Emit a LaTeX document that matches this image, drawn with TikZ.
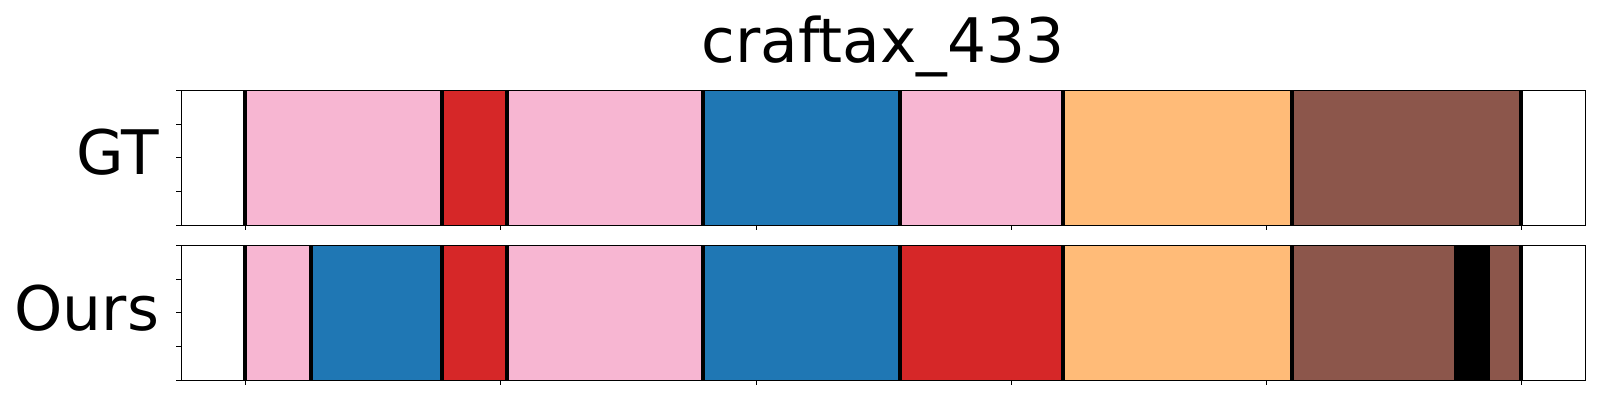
\documentclass[tikz,border=0pt]{standalone}
\usepackage{fontspec}
\setmainfont{DejaVu Sans}
\definecolor{cpink}{HTML}{F7B6D2}
\definecolor{cred}{HTML}{D62728}
\definecolor{cblue}{HTML}{1F77B4}
\definecolor{corange}{HTML}{FFBB78}
\definecolor{cbrown}{HTML}{8C564B}
\tikzset{
  lbl/.style={inner sep=0pt, font=\fontsize{30.7}{36}\selectfont},
  frame/.style={draw=black, line width=0.65pt},
  sep/.style={draw=black, line width=2pt},
  tick/.style={draw=black, line width=0.5pt},
}
\begin{document}
\begin{tikzpicture}[x=0.5pt,y=-0.5pt]
\useasboundingbox (0,0) rectangle (1600,400);
% ---- top row (GT): y 90.3 -- 225.3
\def\ta{90.3}\def\tb{225.3}
\fill[cpink]   (245,\ta) rectangle (441.5,\tb);
\fill[cred]    (441.5,\ta) rectangle (507,\tb);
\fill[cpink]   (507,\ta) rectangle (703,\tb);
\fill[cblue]   (703,\ta) rectangle (900,\tb);
\fill[cpink]   (900,\ta) rectangle (1063,\tb);
\fill[corange] (1063,\ta) rectangle (1291.7,\tb);
\fill[cbrown]  (1291.7,\ta) rectangle (1521,\tb);
\foreach \x in {245,441.5,507,703,900,1063,1291.7,1521}
  \draw[sep] (\x,\ta) -- (\x,\tb);
% ---- bottom row (Ours): y 245.3 -- 380.3
\def\ba{245.3}\def\bb{380.3}
\fill[cpink]   (245,\ba) rectangle (310.7,\bb);
\fill[cblue]   (310.7,\ba) rectangle (441.5,\bb);
\fill[cred]    (441.5,\ba) rectangle (507,\bb);
\fill[cpink]   (507,\ba) rectangle (703,\bb);
\fill[cblue]   (703,\ba) rectangle (900,\bb);
\fill[cred]    (900,\ba) rectangle (1063,\bb);
\fill[corange] (1063,\ba) rectangle (1291.7,\bb);
\fill[cbrown]  (1291.7,\ba) rectangle (1454,\bb);
\fill[black]   (1454,\ba) rectangle (1490,\bb);
\fill[cbrown]  (1490,\ba) rectangle (1521,\bb);
\foreach \x in {245,310.7,441.5,507,703,900,1063,1291.7,1521}
  \draw[sep] (\x,\ba) -- (\x,\bb);
% ---- frames
\draw[frame] (181.3,\ta) rectangle (1585.7,\tb);
\draw[frame] (181.3,\ba) rectangle (1585.7,\bb);
% ---- ticks
\foreach \i in {0,1,2,3,4} {
  \draw[tick] (176,{\ta+\i*33.75}) -- (181.3,{\ta+\i*33.75});
  \draw[tick] (176,{\ba+\i*33.75}) -- (181.3,{\ba+\i*33.75});
}
\foreach \x in {245.5,500.7,756,1011.3,1266.6,1521.7} {
  \draw[tick] (\x,\tb) -- (\x,230.3);
  \draw[tick] (\x,\bb) -- (\x,385.3);
}
% ---- labels
\node[lbl, anchor=base] (title) at (883,62.7) {craftax\_433};
\node[lbl, anchor=base east] (gt) at (159.5,175) {GT};
\node[lbl, anchor=base east] (ours) at (159.5,330.5) {Ours};
\end{tikzpicture}
\end{document}
